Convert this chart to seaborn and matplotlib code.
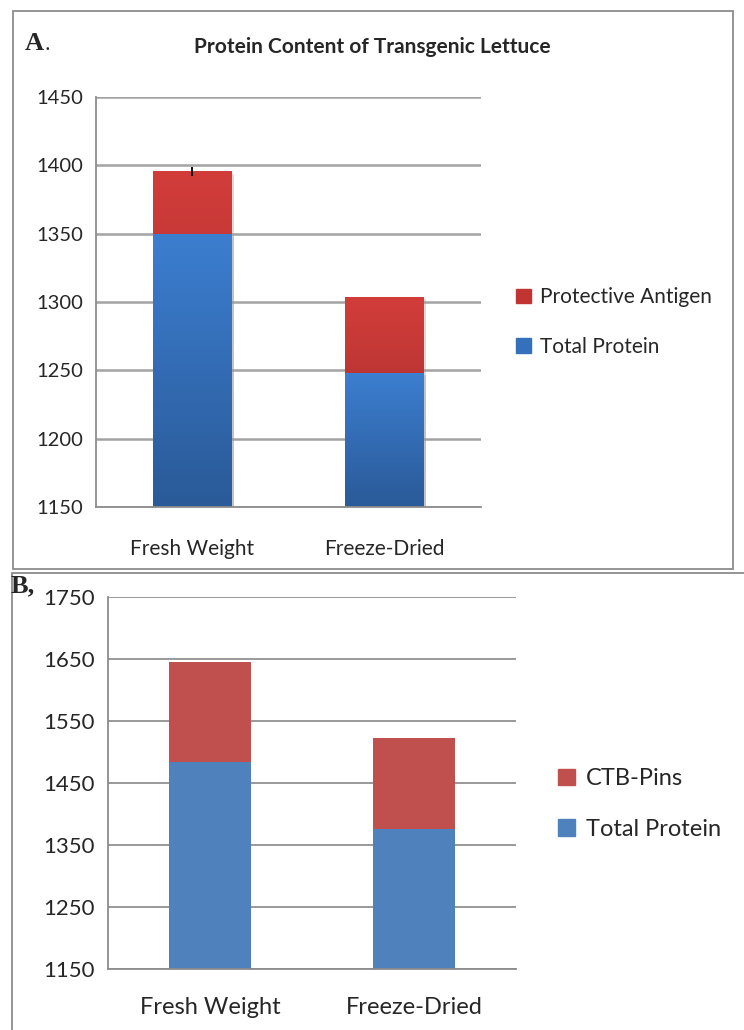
import numpy as np
import seaborn as sns
import matplotlib.pyplot as plt
import matplotlib.patheffects as pe
from matplotlib.patches import Patch, Rectangle
from matplotlib.colors import LinearSegmentedColormap

categories = ["Fresh Weight", "Freeze-Dried"]

# panel A
a_total_protein = [1350, 1248]
a_antigen = [45.5, 55.5]
a_antigen_err = [3, 0]

# panel B
b_total_protein = [1484, 1376]
b_ctb_pins = [161, 147]

sns.set_style("white")
plt.rcParams["font.family"] = ["Lato", "DejaVu Sans"]

W, H = 744, 1030
fig = plt.figure(figsize=(W / 100, H / 100), dpi=100)


def fx(px):
    return px / W


def fy(py):
    return 1 - py / H


def style_axes(ax, ymin, ymax, step, tick_size, xlab_size, grid_color, grid_lw, label_pad):
    ax.set_ylim(ymin, ymax)
    ax.set_xlim(-0.5, 1.5)
    ax.set_yticks(np.arange(ymin, ymax + 1, step))
    ax.set_xticks([0, 1])
    ax.set_xticks([-0.5, 0.5, 1.5], minor=True)
    ax.set_xticklabels(categories)
    ax.tick_params(axis="x", which="major", length=0, pad=label_pad, labelsize=xlab_size)
    ax.tick_params(axis="x", which="minor", length=6, width=1.2, color="#8c8c8c", direction="out")
    ax.tick_params(axis="y", length=6.5, width=1.2, color="#8c8c8c", direction="out", labelsize=tick_size, pad=3)
    ax.yaxis.grid(True, color=grid_color, lw=grid_lw)
    ax.set_axisbelow(True)
    for s in ["top", "right"]:
        ax.spines[s].set_visible(False)
    for s in ["left", "bottom"]:
        ax.spines[s].set_color("#8c8c8c")
        ax.spines[s].set_linewidth(1.3)
    ax.set_xlabel("")
    ax.set_ylabel("")


# ---------- panel A ----------
axA = fig.add_axes([fx(96), fy(507), fx(481) - fx(96), fy(97) - fy(507)])
a_tot = [t + p for t, p in zip(a_total_protein, a_antigen)]
sns.barplot(x=categories, y=a_tot, color="#c53533", saturation=1, width=0.41, linewidth=0, ax=axA)
sns.barplot(x=categories, y=a_total_protein, color="#3470bb", saturation=1, width=0.41, linewidth=0, ax=axA)
style_axes(axA, 1150, 1450, 50, 14.5, 15, "#a3a3a3", 1.8, 23)
axA.set_autoscale_on(False)

red_cmap = LinearSegmentedColormap.from_list("r", ["#9a2b2b", "#d23d3a"])
blue_cmap = LinearSegmentedColormap.from_list("b", ["#2a5a98", "#3c7ed0"])
grad = np.linspace(0, 1, 256).reshape(-1, 1)
for i, p in enumerate(axA.patches):
    cmap = red_cmap if i < 2 else blue_cmap
    x0, w = p.get_x(), p.get_width()
    y0 = max(p.get_y(), 1150)
    y1 = p.get_y() + p.get_height()
    p.set_path_effects([pe.SimplePatchShadow(offset=(1.5, -1.5), shadow_rgbFace="#999999", alpha=0.35), pe.Normal()])
    im = axA.imshow(grad, extent=[x0, x0 + w, y0, y1], origin="lower", aspect="auto",
                    cmap=cmap, zorder=p.get_zorder() + 0.1)
    im.set_clip_path(p)

axA.errorbar([0, 1], a_tot, yerr=a_antigen_err, fmt="none", ecolor="black", elinewidth=1.3, capsize=0, zorder=5)
axA.set_xlim(-0.5, 1.5)
axA.set_ylim(1150, 1450)

axA.legend(handles=[Patch(color="#c23432"), Patch(color="#3470bb")],
           labels=["Protective Antigen", "Total Protein"],
           loc="center left", bbox_to_anchor=(fx(516), fy(322)), bbox_transform=fig.transFigure,
           frameon=False, fontsize=15, handlelength=0.7, handleheight=0.7,
           handletextpad=0.45, labelspacing=1.4, borderpad=0, borderaxespad=0)

fig.text(0.5, fy(47), "Protein Content of Transgenic Lettuce", ha="center", va="center",
         fontsize=15, fontweight="bold")
fig.text(fx(25), fy(43), "A", ha="left", va="center", fontsize=19, fontweight="bold",
         family="Liberation Serif")
fig.text(fx(44), fy(45), ".", ha="left", va="center", fontsize=16, family="Liberation Serif")

# ---------- panel B ----------
axB = fig.add_axes([fx(108), fy(969), fx(516) - fx(108), fy(597) - fy(969)])
b_tot = [t + c for t, c in zip(b_total_protein, b_ctb_pins)]
sns.barplot(x=categories, y=b_tot, color="#c0504d", saturation=1, width=0.40, linewidth=0, ax=axB)
sns.barplot(x=categories, y=b_total_protein, color="#4f81bd", saturation=1, width=0.40, linewidth=0, ax=axB)
style_axes(axB, 1150, 1750, 100, 16, 17, "#888888", 1.2, 20)

axB.legend(handles=[Patch(color="#c0504d"), Patch(color="#4f81bd")],
           labels=["CTB-Pins", "Total Protein"],
           loc="center left", bbox_to_anchor=(fx(558), fy(804)), bbox_transform=fig.transFigure,
           frameon=False, fontsize=17, handlelength=0.7, handleheight=0.7,
           handletextpad=0.5, labelspacing=1.25, borderpad=0, borderaxespad=0)

fig.text(fx(11), fy(586), "B,", ha="left", va="center", fontsize=19, fontweight="bold",
         family="Liberation Serif")

# panel frames
fig.add_artist(Rectangle((fx(13), fy(569)), fx(733) - fx(13), fy(11) - fy(569),
                         transform=fig.transFigure, fill=False, ec="#8c8c8c", lw=1.3))
fig.add_artist(Rectangle((fx(12), fy(1040)), fx(760) - fx(12), fy(573) - fy(1040),
                         transform=fig.transFigure, fill=False, ec="#8c8c8c", lw=1.3))

fig.savefig("out.png", dpi=100)
